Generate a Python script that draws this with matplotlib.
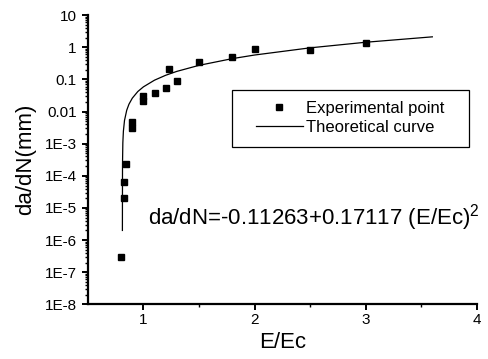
import matplotlib
matplotlib.use('Agg')
import matplotlib.pyplot as plt
from matplotlib.patches import Rectangle
from matplotlib.ticker import FixedLocator, FixedFormatter, LogLocator, NullFormatter

plt.rcParams['font.family'] = ['Liberation Sans', 'DejaVu Sans']
plt.rcParams['mathtext.fontset'] = 'custom'
plt.rcParams['mathtext.rm'] = 'Liberation Sans'

# experimental points
exp_x = [0.80, 0.826, 0.826, 0.846, 0.895, 0.895, 1.0, 1.0, 1.10, 1.20, 1.226, 1.30, 1.50, 1.80, 2.0, 2.5, 3.0]
exp_y = [3e-7, 2e-5, 6.6e-5, 2.3e-4, 3.0e-3, 4.6e-3, 0.022, 0.030, 0.039, 0.055, 0.21, 0.089, 0.34, 0.51, 0.88, 0.84, 1.38]

# theoretical curve
th_x = [0.811, 0.812, 0.815, 0.82, 0.83, 0.85, 0.87, 0.9, 0.95, 1.0, 1.1, 1.2, 1.3, 1.5, 1.8, 2.0, 2.5, 3.0, 3.6]
th_y = [2e-6, 2.3e-4, 1.07e-3, 2.46e-3, 5.3e-3, 0.011, 0.0169, 0.026, 0.042, 0.0585, 0.0945, 0.134, 0.177,
        0.273, 0.442, 0.572, 0.957, 1.428, 2.105]

y_ticks = [1e-8, 1e-7, 1e-6, 1e-5, 1e-4, 1e-3, 1e-2, 1e-1, 1, 10]
y_labels = ['1E-8', '1E-7', '1E-6', '1E-5', '1E-4', '1E-3', '0.01', '0.1', '1', '10']

fig = plt.figure(figsize=(4.88, 3.59), dpi=100)
ax = fig.add_axes([0.180, 0.152, 0.797, 0.806])

ax.plot(exp_x, exp_y, 's', color='black', markersize=4.3, label='Experimental point')
ax.plot(th_x, th_y, '-', color='black', linewidth=0.9, label='Theoretical curve')

ax.set_yscale('log')
ax.set_xlim(0.5, 4)
ax.set_ylim(1e-8, 10)
ax.yaxis.set_major_locator(FixedLocator(y_ticks))
ax.yaxis.set_major_formatter(FixedFormatter(y_labels))
ax.yaxis.set_minor_locator(LogLocator(base=10, subs=range(2, 10), numticks=20))
ax.yaxis.set_minor_formatter(NullFormatter())
ax.set_xticks([1, 2, 3, 4])
ax.set_xticks([1.5, 2.5, 3.5], minor=True)

for s in ['top', 'right']:
    ax.spines[s].set_visible(False)
for s in ['left', 'bottom']:
    ax.spines[s].set_linewidth(1.6)
ax.tick_params(which='major', direction='out', length=4, width=1.4, labelsize=11, pad=2)
ax.tick_params(axis='y', which='major', pad=4)
ax.tick_params(which='minor', direction='out', length=2.5, width=1.0)

ax.set_xlabel('E/Ec', fontsize=16, labelpad=4)
ax.set_ylabel('da/dN(mm)', fontsize=16, labelpad=6)

ax.text(0.154, 0.30, 'da/dN=-0.11263+0.17117 (E/Ec)$^2$', transform=ax.transAxes,
        fontsize=16, ha='left', va='center')

ax.legend(loc='center left', bbox_to_anchor=(0.432, 0.644), frameon=False, fontsize=12,
          numpoints=1, handlelength=2.8, handletextpad=0.2, borderpad=0, borderaxespad=0,
          labelspacing=0.25)
ax.add_patch(Rectangle((0.370, 0.543), 0.609, 0.197, transform=ax.transAxes,
                       fill=False, edgecolor='black', linewidth=0.9))

fig.savefig('out.png', dpi=100)
